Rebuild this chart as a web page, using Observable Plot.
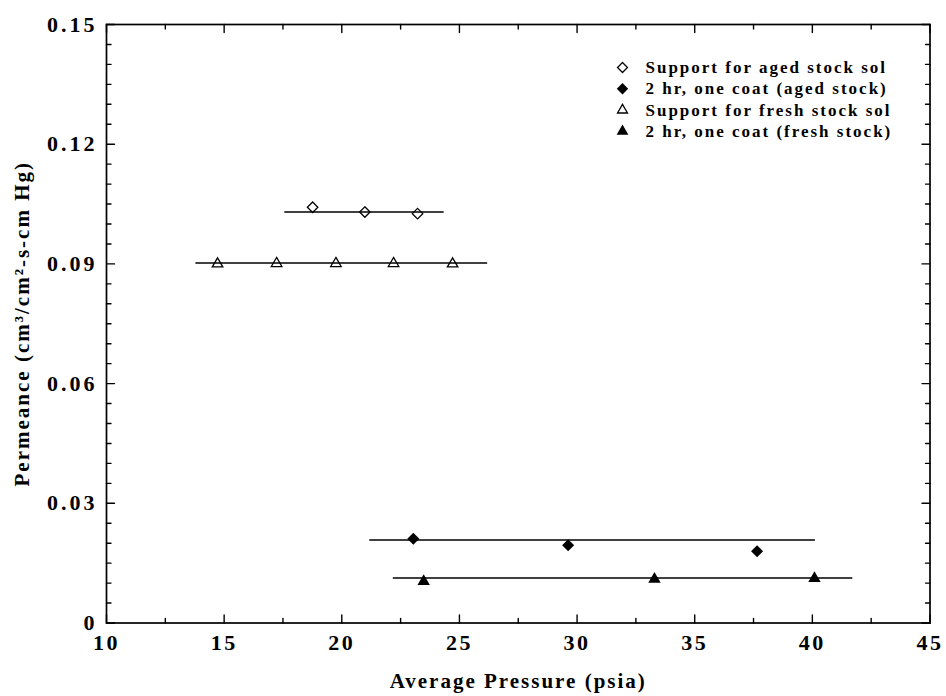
<!DOCTYPE html>
<html><head><meta charset="utf-8">
<script src="https://cdn.jsdelivr.net/npm/d3@7"></script>
<script src="https://cdn.jsdelivr.net/npm/@observablehq/plot@0.6"></script>
<style>
body{margin:0;background:#fff;}
svg text{font-family:"Liberation Serif","Times New Roman",serif;font-weight:bold;fill:#000;}
g[aria-label="x-axis tick label"] text{letter-spacing:2.5px;}
g[aria-label="y-axis tick label"] text{letter-spacing:3px;}
g[aria-label="text"] text{letter-spacing:2px;}
</style>
</head><body><div id="chart"></div>
<script>
// ---- data ----
const xTicks = [10, 15, 20, 25, 30, 35, 40, 45];
const xMinorTicks = [12.5, 17.5, 22.5, 27.5, 32.5, 37.5, 42.5];
const yTicks = [0, 0.03, 0.06, 0.09, 0.12, 0.15];
const yTickLabels = ["0", "0.03", "0.06", "0.09", "0.12", "0.15"];
const yMinorTicks = [0.005,0.01,0.015,0.02,0.025,0.035,0.04,0.045,0.05,0.055,0.065,0.07,0.075,0.08,0.085,0.095,0.1,0.105,0.11,0.115,0.125,0.13,0.135,0.14,0.145];

const seriesNames = ["Support for aged stock sol", "2 hr, one coat (aged stock)", "Support for fresh stock sol", "2 hr, one coat (fresh stock)"];
const seriesSymbols = ["diamond2", "diamond2", "triangle", "triangle"];
const seriesFilled = [false, true, false, true];

const agedSupportP = [18.76, 20.98, 23.22];
const agedSupportK = [0.1042, 0.1030, 0.1026];
const agedCoatP = [23.04, 29.62, 37.65];
const agedCoatK = [0.0211, 0.0195, 0.0180];
const freshSupportP = [14.72, 17.23, 19.75, 22.20, 24.71];
const freshSupportK = [0.0900, 0.0901, 0.0901, 0.0901, 0.0900];
const freshCoatP = [23.48, 33.29, 40.09];
const freshCoatK = [0.0104, 0.0110, 0.0112];

// horizontal average lines
const fitStart = [17.58, 21.19, 13.80, 22.19];
const fitEnd = [24.35, 40.13, 26.20, 41.72];
const fitLevel = [0.1030, 0.0208, 0.0902, 0.0113];

const xTitle = "Average Pressure (psia)";
const yTitle = "Permeance (cm³/cm²-s-cm Hg)";

// ---- build tables ----
const seriesP = [agedSupportP, agedCoatP, freshSupportP, freshCoatP];
const seriesK = [agedSupportK, agedCoatK, freshSupportK, freshCoatK];
const fits = seriesNames.map((s, i) => ({s, start: fitStart[i], end: fitEnd[i], level: fitLevel[i]}));
const symbolR = {"diamond2": [4.7, 5.4], "triangle": [3.9, 4.6]};

const tickShape = {draw(context, l) { context.moveTo(0, 0); context.lineTo(0, -l); }};
const tickMarks = (data, opts) => Plot.vector(data, {anchor: "start", shape: tickShape, stroke: "black", strokeWidth: 1.4, ...opts});

const marks = [
  Plot.frame({stroke: "black", strokeWidth: 1.7}),
  // inward ticks on all four sides
  tickMarks(xTicks, {x: d => d, y: () => 0, length: 8, rotate: 0}),
  tickMarks(xMinorTicks, {x: d => d, y: () => 0, length: 4.5, rotate: 0}),
  tickMarks(xTicks, {x: d => d, y: () => 0.15, length: 8, rotate: 180}),
  tickMarks(xMinorTicks, {x: d => d, y: () => 0.15, length: 4.5, rotate: 180}),
  tickMarks(yTicks, {y: d => d, x: () => 10, length: 8, rotate: 90}),
  tickMarks(yMinorTicks, {y: d => d, x: () => 10, length: 4.5, rotate: 90}),
  tickMarks(yTicks, {y: d => d, x: () => 45, length: 8, rotate: 270}),
  tickMarks(yMinorTicks, {y: d => d, x: () => 45, length: 4.5, rotate: 270}),
  Plot.axisX({ticks: xTicks, tickSize: 0, tickPadding: 11, fontSize: 22, fontWeight: "bold", tickFormat: d => String(d), label: null}),
  Plot.axisY({ticks: yTicks, tickSize: 0, tickPadding: 9, fontSize: 22, fontWeight: "bold", tickFormat: (d, i) => yTickLabels[i], label: null}),
  Plot.ruleY(fits, {y: "level", x1: "start", x2: "end", stroke: "black", strokeWidth: 1.5}),
];

seriesNames.forEach((name, i) => {
  const rows = seriesP[i].map((p, j) => ({p, k: seriesK[i][j]}));
  const sym = seriesSymbols[i];
  const filled = seriesFilled[i];
  const r = symbolR[sym][filled ? 1 : 0];
  marks.push(Plot.dot(rows, {x: "p", y: "k", symbol: () => sym, r,
    fill: filled ? "black" : "none", stroke: filled ? "none" : "black", strokeWidth: 1.3}));
  // legend entry
  marks.push(Plot.dot([name], {frameAnchor: "top-left", dx: 516, dy: 43 + i * 21.3, symbol: () => sym, r: r * 0.95,
    fill: filled ? "black" : "none", stroke: filled ? "none" : "black", strokeWidth: 1.3}));
  marks.push(Plot.text([name], {frameAnchor: "top-left", dx: 539, dy: 43 + i * 21.3, text: d => d, textAnchor: "start", lineAnchor: "middle", fontSize: 17}));
});

marks.push(Plot.text([xTitle], {frameAnchor: "bottom", dy: 58, text: d => d, fontSize: 21, textAnchor: "middle", lineAnchor: "middle"}));
marks.push(Plot.text([yTitle], {frameAnchor: "left", dx: -84, text: d => d, rotate: -90, fontSize: 21, textAnchor: "middle", lineAnchor: "middle"}));

const chart = Plot.plot({
  width: 946, height: 696,
  marginLeft: 106, marginRight: 16.5, marginTop: 24, marginBottom: 73.5,
  x: {domain: [10, 45]},
  y: {domain: [0, 0.15]},
  style: {background: "#fff", fontFamily: "Liberation Serif, Times New Roman, serif"},
  marks
});
document.getElementById("chart").appendChild(chart);
</script></body></html>
